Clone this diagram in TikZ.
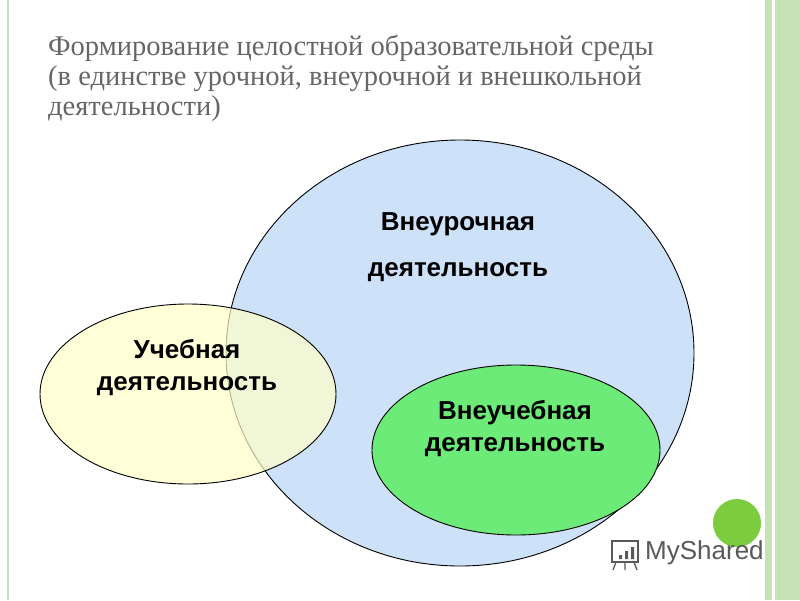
\documentclass[tikz,border=0pt]{standalone}
\usepackage{fontspec}
\setmainfont{Liberation Serif}
\newfontfamily\sansb{Liberation Sans}
\definecolor{bluef}{HTML}{CDE1F9}
\definecolor{yellf}{HTML}{FFFFC8}
\definecolor{greenf}{HTML}{6CEB78}
\definecolor{strip}{HTML}{C6E3B5}
\definecolor{dotg}{HTML}{7DCB3F}
\definecolor{titleg}{HTML}{666666}
\begin{document}
\begin{tikzpicture}[x=1pt,y=-1pt,
  lbl/.style={font=\sansb\bfseries\fontsize{26}{32}\selectfont,align=center,text=black},
  ttl/.style={font=\fontsize{28.5}{30}\selectfont,text=titleg,anchor=base west,inner sep=0}]
\useasboundingbox (0,0) rectangle (800,600);
\fill[white] (0,0) rectangle (800,600);
% borders
\fill[strip] (765,0) rectangle (800,600);
\fill[white] (772,0) rectangle (775,600);
\draw[strip!80!black!60,line width=1] (779,0) -- (779,600);
\draw[strip,line width=2] (8,0) -- (8,600);
% title
\node[ttl] (t1) at (48,55) {Формирование целостной образовательной среды};
\node[ttl] (t2) at (48,85) {(в единстве урочной, внеурочной и внешкольной};
\node[ttl] (t3) at (48,115) {деятельности)};
% shapes
\draw[fill=bluef,line width=0.9] (460,353) ellipse [x radius=234,y radius=213];
\draw[fill=yellf,fill opacity=0.7,line width=0.9] (188,394) ellipse [x radius=148,y radius=90];
\draw[fill=greenf,line width=0.9] (516,450) ellipse [x radius=144,y radius=85];
\node[lbl,font=\sansb\bfseries\fontsize{26}{46}\selectfont] (a) at (458,247) {Внеурочная\\деятельность};
\node[lbl] (b) at (187,368) {Учебная\\деятельность};
\node[lbl] (c) at (515,429) {Внеучебная\\деятельность};
% logo
\fill[dotg] (737,523) circle (24);
\node[font=\sansb\fontsize{26}{26}\selectfont,text=black!65,anchor=west,inner sep=0] (m) at (645,553) {MyShared};
\draw[black!65,line width=1.3] (612,541) rectangle (638,562);
\draw[black!65,line width=1.3] (616,562) -- (613,570) (625,562) -- (625,570) (634,562) -- (637,570);
\fill[black!65] (619,555) rectangle (622,559) (625,551) rectangle (628,559) (631,547) rectangle (634,559);
\end{tikzpicture}
\end{document}
